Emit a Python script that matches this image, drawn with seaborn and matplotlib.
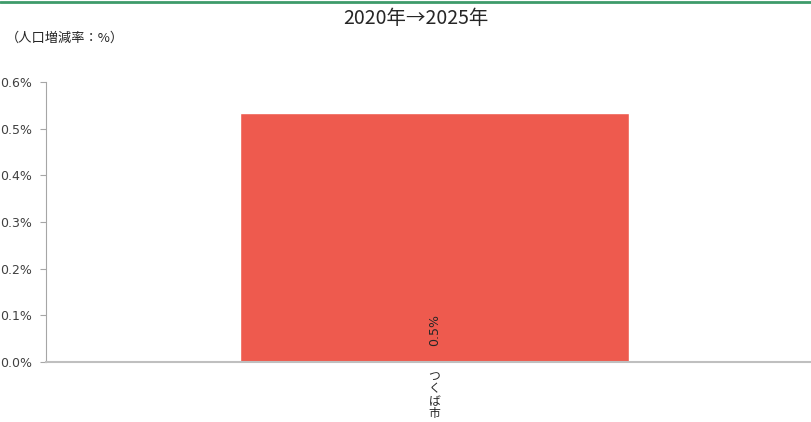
import matplotlib
matplotlib.use('Agg')
import matplotlib.pyplot as plt
import matplotlib.ticker as mticker
import pandas as pd
import seaborn as sns

# data
cities = ['つくば市']
rates = [0.533]          # population change rate, %
bar_labels = ['0.5%']
title = '2020年→2025年'
unit_label = '（人口増減率：%）'
yticks = [0.0, 0.1, 0.2, 0.3, 0.4, 0.5, 0.6]

df = pd.DataFrame({'city': cities, 'rate': rates})

sns.set_style('white')
plt.rcParams['font.family'] = ['DejaVu Sans', 'Noto Sans CJK JP']
jp = ['Noto Sans CJK JP', 'DejaVu Sans']

fig = plt.figure(figsize=(8.12, 4.22), dpi=100)
ax = fig.add_axes([46 / 812, 60 / 422, 1 - 46 / 812, 280 / 422])

sns.barplot(data=df, x='city', y='rate', color='#EE5A4E', saturation=1,
            width=0.507, ax=ax)

ax.set_ylim(0, 0.6)
ax.set_xlim(-0.507, 0.493)
ax.set_yticks(yticks)
ax.yaxis.set_major_formatter(mticker.FuncFormatter(lambda v, p: f'{v:.1f}%'))
ax.set_xlabel('')
ax.set_ylabel('')

for s in ['top', 'right']:
    ax.spines[s].set_visible(False)
ax.spines['left'].set_color('#A6A6A6')
ax.spines['bottom'].set_color('#BFBFBF')
ax.spines['bottom'].set_linewidth(1.5)
ax.tick_params(axis='y', which='major', length=4, color='#A6A6A6', pad=6,
               labelsize=9, labelcolor='#404040', direction='out', left=True)
ax.tick_params(axis='x', length=0, pad=6)
ax.set_xticks(range(len(cities)))
# stacked vertical Japanese text, one character per line
ax.set_xticklabels(['\n'.join(c) for c in cities], family=jp, fontsize=8.5,
                   color='#262626', linespacing=0.92, va='top')

for i, (v, lab) in enumerate(zip(rates, bar_labels)):
    ax.text(i, 0.068, lab, rotation=90, ha='center', va='center',
            fontsize=9, color='#262626')

fig.text(416 / 812, 1 - 18 / 422, title, ha='center', va='center',
         fontsize=14, color='#262626', family=jp)
fig.text(6 / 812, 1 - 38 / 422, unit_label, ha='left', va='center',
         fontsize=9.5, color='#262626', family=jp)
fig.add_artist(plt.Line2D([0, 1], [1 - 2 / 422, 1 - 2 / 422],
                          color='#3E9B6A', linewidth=2,
                          transform=fig.transFigure))

fig.savefig('out.png', dpi=100)
